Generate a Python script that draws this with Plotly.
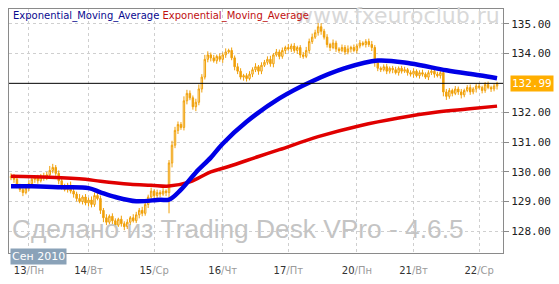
import plotly.graph_objects as go

# ---------------- data ----------------
closes = [
    129.85, 129.75,
    129.55, 129.40, 129.30, 129.45, 129.60,
    129.75, 129.80, 129.70, 129.85, 129.80, 129.90,
    130.05, 130.15, 129.95, 129.70,
    129.50, 129.40, 129.55, 129.35, 129.25,
    129.10, 129.00, 129.15, 128.95, 129.05, 128.90,
    129.20, 129.10,
    128.70, 128.45,
    128.30, 128.50, 128.35, 128.20, 128.40, 128.25, 128.15, 128.30, 128.45, 128.35,
    128.55, 128.70, 128.60, 128.90,
    129.15, 129.35, 129.20, 129.30,
    129.25, 129.35, 129.30,
    130.30, 130.90,
    131.40, 131.60, 131.50,
    132.40, 132.65, 132.50,
    132.20, 132.35,
    132.80, 133.20,
    133.80, 133.95,
    133.85, 133.75, 133.90, 133.80, 133.95,
    134.05, 134.10, 133.85,
    133.55, 133.40,
    133.20, 133.25, 133.15, 133.30,
    133.45, 133.55, 133.40, 133.60,
    133.70, 133.80, 133.65,
    133.95, 134.05, 133.90,
    134.10, 134.20, 134.15, 134.25, 134.10, 134.20,
    133.95, 133.90, 134.10,
    134.40, 134.55, 134.70,
    134.90, 134.75, 134.55,
    134.30, 134.20, 134.35, 134.15,
    134.10, 134.20, 134.05, 134.15, 134.20, 134.10,
    134.25, 134.35, 134.30, 134.40, 134.30, 134.20,
    133.70, 133.50,
    133.45, 133.55, 133.40, 133.50, 133.45, 133.35, 133.50, 133.40, 133.45, 133.35,
    133.30, 133.40, 133.25, 133.35, 133.30, 133.20, 133.35, 133.40, 133.30, 133.25,
    133.35,
    132.70, 132.55, 132.75, 132.65, 132.80, 132.70, 132.60, 132.75, 132.85, 132.70,
    132.80, 132.90, 132.85, 132.75, 132.95, 132.85, 132.80, 132.90, 132.99,
]
first_open = 129.80

upper_wick = [
    .10, .08, .12, .05, .10, .08, .12, .10, .06, .10,
    .08, .12, .10, .15, .12, .08, .10, .06, .10, .08,
    .12, .10, .08, .15, .06, .10, .08, .12, .10, .15,
    .10, .08, .12, .06, .10, .08, .05, .12, .08, .10,
    .06, .12, .10, .08, .12, .10, .08, .12, .06, .10,
    .08, .10, .06, .10, .15, .12, .10, .08, .15, .12,
    .10, .08, .12, .15, .10, .15, .12, .08, .10, .06,
    .10, .08, .12, .06, .10, .08, .12, .10, .06, .08,
    .10, .08, .12, .06, .10, .08, .10, .12, .06, .10,
    .08, .10, .06, .12, .08, .10, .06, .08, .10, .12,
    .10, .12, .10, .20, .12, .08, .10, .06, .12, .08,
    .06, .10, .08, .12, .06, .10, .08, .10, .06, .08,
    .10, .12, .08, .10, .06, .08, .10, .06, .08, .10,
    .06, .08, .10, .06, .08, .10, .06, .08, .10, .06,
    .08, .10, .06, .08, .10, .12, .10, .08, .06, .10,
    .08, .10, .06, .08, .10, .06, .08, .10, .06, .08,
    .10, .06, .08, .05,
]
lower_wick = [
    .08, .12, .10, .08, .12, .06, .10, .08, .12, .10,
    .06, .10, .08, .12, .10, .08, .12, .10, .06, .10,
    .08, .12, .10, .06, .10, .08, .12, .10, .08, .06,
    .12, .15, .10, .08, .12, .10, .06, .10, .12, .08,
    .10, .06, .08, .12, .10, .08, .12, .06, .10, .08,
    .10, .06, .12, .70, .15, .10, .12, .08, .10, .12,
    .08, .10, .15, .10, .12, .08, .10, .12, .06, .10,
    .08, .12, .10, .06, .08, .12, .10, .08, .12, .10,
    .06, .10, .08, .12, .10, .06, .08, .10, .12, .06,
    .10, .08, .12, .06, .10, .08, .12, .10, .08, .06,
    .10, .08, .06, .10, .12, .08, .10, .12, .06, .10,
    .08, .06, .10, .08, .12, .06, .10, .08, .06, .10,
    .08, .12, .15, .10, .08, .06, .10, .08, .12, .06,
    .10, .08, .06, .10, .08, .12, .06, .10, .08, .06,
    .10, .08, .12, .06, .10, .15, .12, .08, .10, .06,
    .10, .12, .08, .06, .10, .08, .12, .06, .10, .08,
    .06, .10, .08, .12,
]

ema_fast_x = [0, 7, 17, 26, 30, 35, 42, 50, 53, 57, 62, 67, 71, 79, 90, 101, 112, 123, 134, 146, 157, 163]
ema_fast_y = [129.51, 129.51, 129.48, 129.45, 129.31, 129.15, 129.01, 129.06, 129.06, 129.40, 129.98,
              130.48, 130.95, 131.69, 132.48, 133.06, 133.50, 133.76, 133.66, 133.43, 133.26, 133.16]

ema_slow_x = [0, 13, 25, 30, 40, 47, 53, 60, 67, 73, 83, 90, 103, 117, 130, 143, 153, 163]
ema_slow_y = [129.85, 129.82, 129.75, 129.68, 129.58, 129.55, 129.52, 129.66, 130.00, 130.18, 130.52,
              130.75, 131.19, 131.56, 131.82, 132.02, 132.12, 132.22]

last_price = 132.99

day_ticks = [6, 26, 48, 71, 93, 116, 135, 157]
day_nums = ["13", "14", "15", "16", "17", "20", "21", "22"]
day_names = ["Пн", "Вт", "Ср", "Чт", "Пт", "Пн", "Вт", "Ср"]
month_label = "Сен 2010"

price_ticks = [128, 129, 130, 131, 132, 134, 135]
legend_names = ["Exponential_Moving_Average", "Exponential_Moving_Average"]

# ---------------- build ----------------
n = len(closes)
xs = list(range(n))
opens = [first_open] + closes[:-1]
highs = [max(o, c) + u for o, c, u in zip(opens, closes, upper_wick)]
lows = [min(o, c) - d for o, c, d in zip(opens, closes, lower_wick)]

ORANGE = "#F0A00A"
fig = go.Figure()
fig.add_trace(go.Candlestick(
    x=xs, open=opens, high=highs, low=lows, close=closes,
    increasing=dict(line=dict(color=ORANGE, width=1), fillcolor="#FFF6DC"),
    decreasing=dict(line=dict(color=ORANGE, width=1), fillcolor=ORANGE),
    whiskerwidth=0, showlegend=False, hoverinfo="skip",
))
fig.add_trace(go.Scatter(x=ema_slow_x, y=ema_slow_y, mode="lines",
                         line=dict(color="#E00000", width=3.5, shape="spline"), showlegend=False))
fig.add_trace(go.Scatter(x=ema_fast_x, y=ema_fast_y, mode="lines",
                         line=dict(color="#0000E6", width=4.5, shape="spline"), showlegend=False))

fig.add_shape(type="line", xref="paper", x0=0, x1=1, yref="y", y0=last_price, y1=last_price,
              line=dict(color="black", width=1))

ticktext = [f'{d}<span style="color:#9a9a9a">/{nm}</span>' for d, nm in zip(day_nums, day_names)]

fig.update_layout(
    width=559, height=284,
    margin=dict(l=8, r=54, t=8, b=30),
    paper_bgcolor="white", plot_bgcolor="white",
    font=dict(family="DejaVu Sans", size=10, color="#333"),
    xaxis=dict(
        range=[-0.67, 165], rangeslider=dict(visible=False),
        tickmode="array", tickvals=day_ticks, ticktext=ticktext,
        showgrid=True, gridcolor="#cfcfcf", griddash="3px,3px", gridwidth=1,
        showline=True, mirror=True, linecolor="#8a8a8a", linewidth=1,
        ticks="outside", ticklen=8, tickcolor="rgba(0,0,0,0)",
        tickfont=dict(family="DejaVu Sans", size=10, color="#333"),
        zeroline=False,
    ),
    yaxis=dict(
        range=[127.26, 135.5], side="right",
        tickmode="array", tickvals=price_ticks, ticktext=[f"{v:.2f}" for v in price_ticks],
        showgrid=True, gridcolor="#cfcfcf", griddash="3px,3px", gridwidth=1,
        showline=True, mirror=True, linecolor="#8a8a8a", linewidth=1,
        ticks="outside", ticklen=5, tickcolor="#8a8a8a",
        tickfont=dict(family="DejaVu Sans Mono", size=11, color="#222"),
        zeroline=False,
    ),
)

# watermarks
fig.add_annotation(xref="paper", yref="paper", x=0.998, y=0.975, xanchor="right", yanchor="middle",
                   text="www.fxeuroclub.ru", showarrow=False,
                   font=dict(family="DejaVu Sans", size=22, color="#d8d8d8"))
fig.add_annotation(xref="paper", yref="paper", x=0.002, y=0.097, xanchor="left", yanchor="middle",
                   text="Сделано из Trading Desk VPro - 4.6.5", showarrow=False,
                   font=dict(family="Liberation Sans", size=26.3, color="#c4c4c4"))

# legend texts
fig.add_annotation(xref="paper", yref="paper", x=0.004, y=0.972, xanchor="left", yanchor="middle",
                   text=f'<span style="color:#0A0A90">{legend_names[0]}</span> '
                        f'<span style="color:#C01010">{legend_names[1]}</span>',
                   showarrow=False, font=dict(family="DejaVu Sans", size=10))

# month box
fig.add_annotation(xref="paper", yref="paper", x=0.002, y=-0.05, xanchor="left", yanchor="bottom",
                   text=month_label, showarrow=False, bgcolor="#8AA2B8", borderpad=1,
                   font=dict(family="DejaVu Sans", size=11, color="white"))

# last price label
fig.add_annotation(xref="paper", yref="y", x=1, y=last_price, xanchor="left", yanchor="middle",
                   xshift=7, text=f"{last_price:.2f}", showarrow=False, bgcolor="#FFAE00",
                   borderpad=1, font=dict(family="DejaVu Sans Mono", size=11, color="white"))

fig.write_html("out.html")
